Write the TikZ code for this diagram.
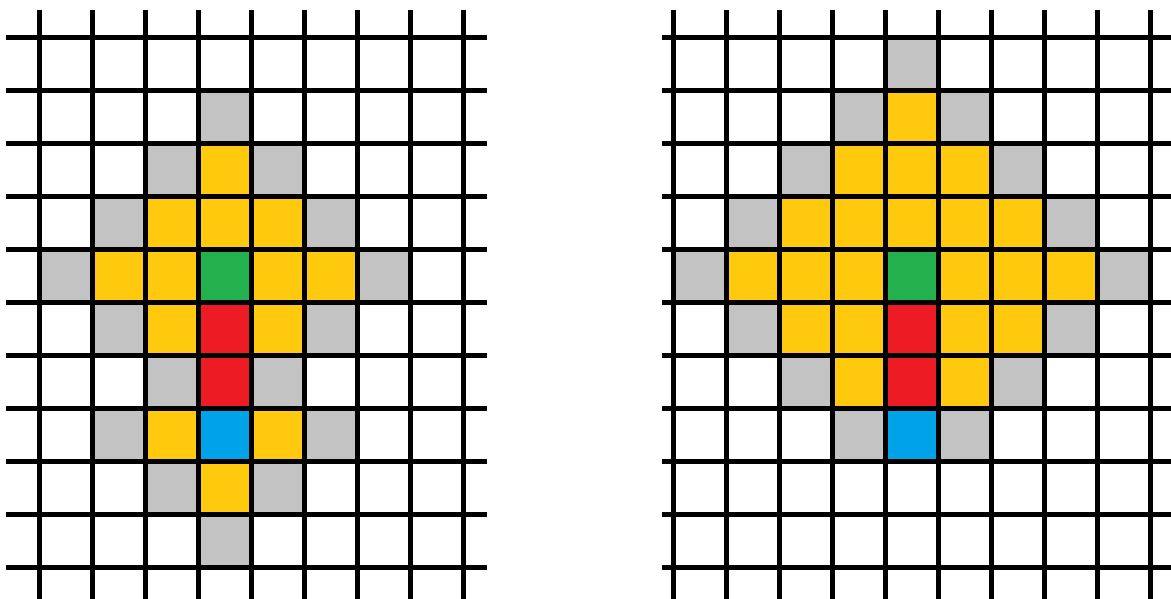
\documentclass[tikz,border=0pt]{standalone}
\definecolor{cgray}{HTML}{C3C3C3}
\definecolor{cyellow}{HTML}{FFC90E}
\definecolor{cgreen}{HTML}{22B14C}
\definecolor{cred}{HTML}{ED1C24}
\definecolor{cblue}{HTML}{00A2E8}
\tikzset{gridline/.style={black,line width=5pt}}
\begin{document}
\begin{tikzpicture}[x=1pt,y=-1pt]
\useasboundingbox (0,0) rectangle (1171,599);
% ---------- left grid ----------
\begin{scope}[shift={(39,37.5)}]
\foreach \c/\r/\col in {3/1/cgray,2/2/cgray,4/2/cgray,1/3/cgray,5/3/cgray,0/4/cgray,6/4/cgray,1/5/cgray,5/5/cgray,2/6/cgray,4/6/cgray,1/7/cgray,5/7/cgray,2/8/cgray,4/8/cgray,3/9/cgray,
 3/2/cyellow,2/3/cyellow,3/3/cyellow,4/3/cyellow,1/4/cyellow,2/4/cyellow,4/4/cyellow,5/4/cyellow,2/5/cyellow,4/5/cyellow,2/7/cyellow,4/7/cyellow,3/8/cyellow,
 3/4/cgreen,3/5/cred,3/6/cred,3/7/cblue}
  \fill[\col] ({53*\c},{53*\r}) rectangle +(53,53);
\foreach \k in {0,...,8}
  \draw[gridline] ({53*\k},-27.5) -- ({53*\k},561.5);
\foreach \j in {0,...,10}
  \draw[gridline] (-33,{53*\j}) -- (448,{53*\j});
\end{scope}
% ---------- right grid ----------
\begin{scope}[shift={(673,37.5)}]
\foreach \c/\r/\col in {4/0/cgray,3/1/cgray,5/1/cgray,2/2/cgray,6/2/cgray,1/3/cgray,7/3/cgray,0/4/cgray,8/4/cgray,1/5/cgray,7/5/cgray,2/6/cgray,6/6/cgray,3/7/cgray,5/7/cgray,
 4/1/cyellow,3/2/cyellow,4/2/cyellow,5/2/cyellow,2/3/cyellow,3/3/cyellow,4/3/cyellow,5/3/cyellow,6/3/cyellow,1/4/cyellow,2/4/cyellow,3/4/cyellow,5/4/cyellow,6/4/cyellow,7/4/cyellow,2/5/cyellow,3/5/cyellow,5/5/cyellow,6/5/cyellow,3/6/cyellow,5/6/cyellow,
 4/4/cgreen,4/5/cred,4/6/cred,4/7/cblue}
  \fill[\col] ({53*\c},{53*\r}) rectangle +(53,53);
\foreach \k in {0,...,9}
  \draw[gridline] ({53*\k},-27.5) -- ({53*\k},561.5);
\foreach \j in {0,...,10}
  \draw[gridline] (-11,{53*\j}) -- (498,{53*\j});
\end{scope}
\end{tikzpicture}
\end{document}
